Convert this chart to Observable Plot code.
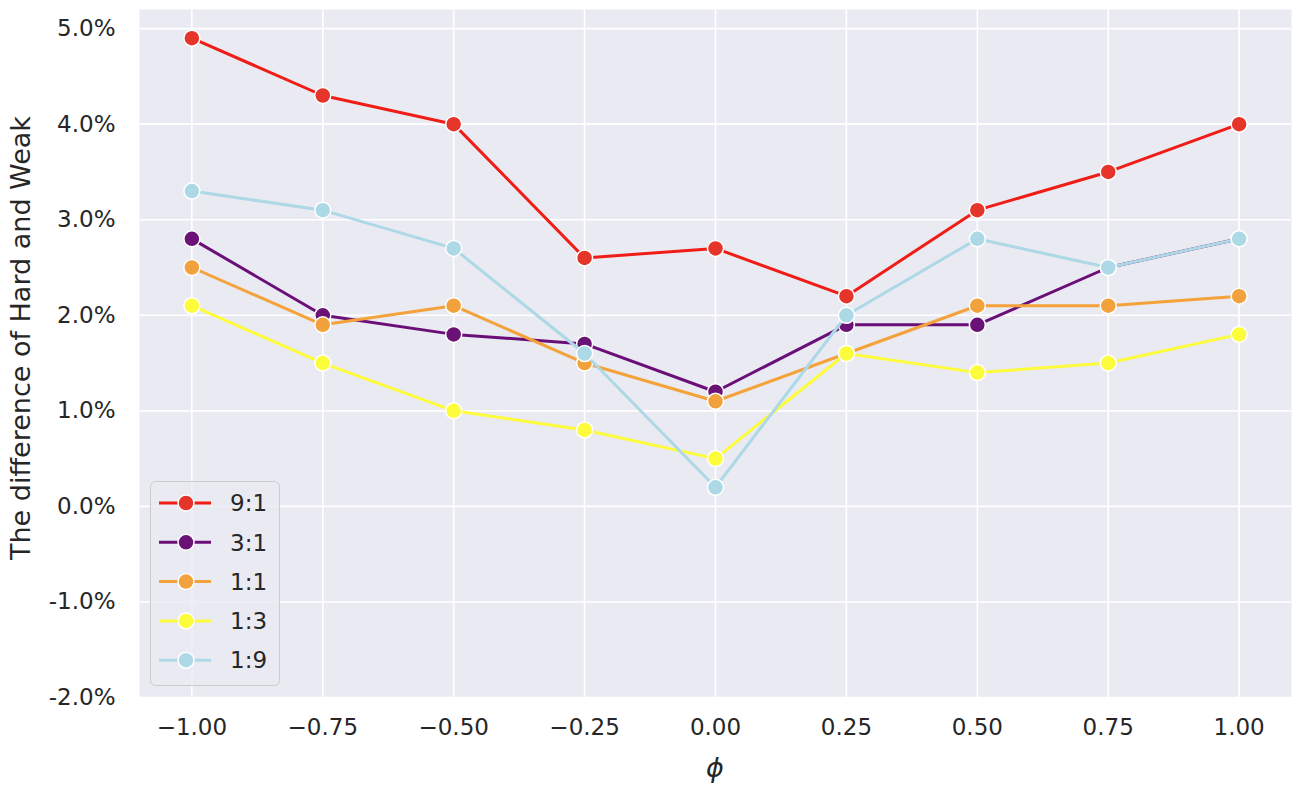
<!DOCTYPE html>
<html>
<head>
<meta charset="utf-8">
<script src="https://cdn.jsdelivr.net/npm/d3@7"></script>
<script src="https://cdn.jsdelivr.net/npm/@observablehq/plot@0.6"></script>
<style>
  html, body { margin: 0; padding: 0; background: white; }
  #wrap { position: relative; width: 1304px; height: 786px; font-family: "DejaVu Sans", sans-serif; }
  #legend { position: absolute; left: 150px; top: 481px; }
</style>
</head>
<body>
<div id="wrap"></div>
<script>
const phi = [-1, -0.75, -0.5, -0.25, 0, 0.25, 0.5, 0.75, 1];
const seriesNames = ["9:1", "3:1", "1:1", "1:3", "1:9"];
const s9to1 = [4.9, 4.3, 4.0, 2.6, 2.7, 2.2, 3.1, 3.5, 4.0];
const s3to1 = [2.8, 2.0, 1.8, 1.7, 1.2, 1.9, 1.9, 2.5, 2.8];
const s1to1 = [2.5, 1.9, 2.1, 1.5, 1.1, 1.6, 2.1, 2.1, 2.2];
const s1to3 = [2.1, 1.5, 1.0, 0.8, 0.5, 1.6, 1.4, 1.5, 1.8];
const s1to9 = [3.3, 3.1, 2.7, 1.6, 0.2, 2.0, 2.8, 2.5, 2.8];
const xTicks = [-1, -0.75, -0.5, -0.25, 0, 0.25, 0.5, 0.75, 1];
const yTicks = [-2, -1, 0, 1, 2, 3, 4, 5];
const lineColors = ["#f01c16", "#6b0f78", "#f4a23a", "#fdfc3c", "#add8e6"];
const dotColors  = ["#e5352a", "#6b1276", "#f2a23c", "#fdfc3c", "#add8e6"];

const seriesValues = [s9to1, s3to1, s1to1, s1to3, s1to9];
const seriesData = seriesNames.map((name, i) =>
  phi.map((p, j) => ({ phi: p, value: seriesValues[i][j], series: name })));

const seriesMarks = [];
seriesData.forEach((data, i) => {
  seriesMarks.push(Plot.line(data, { x: "phi", y: "value", stroke: lineColors[i], strokeWidth: 3 }));
  seriesMarks.push(Plot.dot(data, { x: "phi", y: "value", r: 8, fill: dotColors[i], stroke: "white", strokeWidth: 1.5 }));
});

const chart = Plot.plot({
  width: 1304,
  height: 786,
  marginLeft: 139,
  marginRight: 13,
  marginTop: 9,
  marginBottom: 89,
  x: { domain: [-1.1, 1.1] },
  y: { domain: [-2, 5.2] },
  style: { fontFamily: "DejaVu Sans", fontSize: "23px", color: "#262626", background: "white" },
  marks: [
    Plot.frame({ fill: "#eaeaf2", stroke: null }),
    Plot.gridX(xTicks, { stroke: "white", strokeOpacity: 1, strokeWidth: 1.6 }),
    Plot.gridY(yTicks, { stroke: "white", strokeOpacity: 1, strokeWidth: 1.6 }),
    Plot.axisX(xTicks, { tickSize: 0, tickPadding: 21, tickFormat: d3.format(".2f"), label: null }),
    Plot.axisY(yTicks, { tickSize: 0, tickPadding: 24, tickFormat: d => d.toFixed(1) + "%", label: null }),
    ...seriesMarks
  ]
});

const svg = d3.select(chart);
svg.append("text")
  .attr("transform", "translate(30,338) rotate(-90)")
  .attr("text-anchor", "middle")
  .attr("fill", "#262626")
  .style("font-size", "27px")
  .text("The difference of Hard and Weak");
svg.append("text")
  .attr("x", 715).attr("y", 777)
  .attr("text-anchor", "middle")
  .attr("fill", "#262626")
  .style("font-size", "27px")
  .style("font-style", "italic")
  .text("ϕ");

const wrap = document.getElementById("wrap");
wrap.appendChild(chart);

// legend
const legendDiv = document.createElement("div");
legendDiv.id = "legend";
wrap.appendChild(legendDiv);
const lg = d3.select(legendDiv).append("svg").attr("width", 131).attr("height", 206);
lg.append("rect").attr("x", 0.5).attr("y", 0.5).attr("width", 129).attr("height", 204)
  .attr("rx", 5).attr("fill", "#eaeaf2").attr("fill-opacity", 0.8).attr("stroke", "#cccccc").attr("stroke-width", 1);
seriesNames.forEach((name, i) => {
  const cy = 22 + i * 39.3;
  lg.append("line").attr("x1", 9).attr("x2", 61).attr("y1", cy).attr("y2", cy)
    .attr("stroke", lineColors[i]).attr("stroke-width", 3);
  lg.append("circle").attr("cx", 36).attr("cy", cy).attr("r", 8)
    .attr("fill", dotColors[i]).attr("stroke", "white").attr("stroke-width", 1.5);
  lg.append("text").attr("x", 80).attr("y", cy).attr("dy", "0.36em")
    .attr("fill", "#262626").style("font-size", "23px").style("font-family", "DejaVu Sans")
    .text(name);
});
</script>
</body>
</html>
